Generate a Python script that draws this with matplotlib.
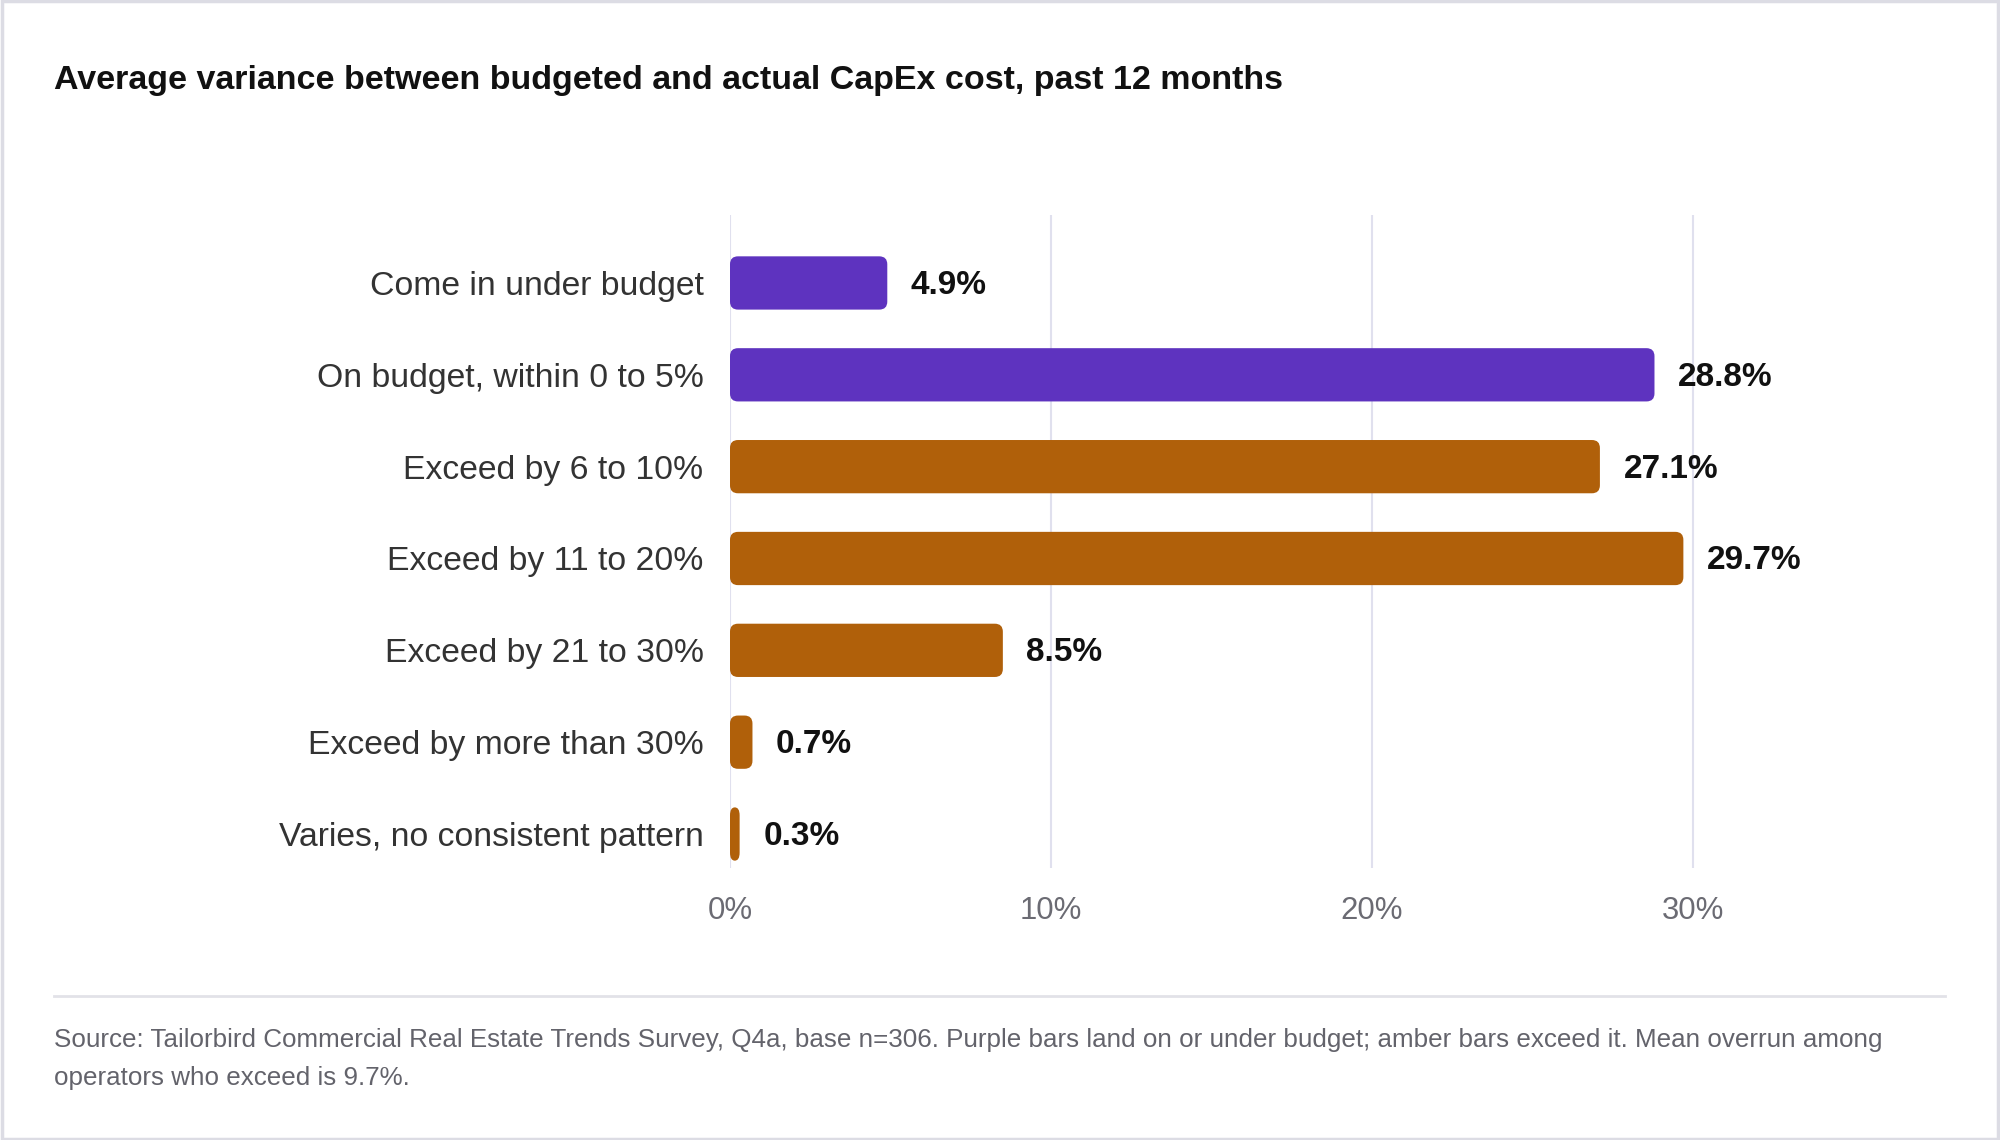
import matplotlib
matplotlib.use("Agg")
import matplotlib.pyplot as plt
from matplotlib.patches import FancyBboxPatch, Rectangle

plt.rcParams['font.family'] = ['Liberation Sans', 'DejaVu Sans']

# data
categories = ["Come in under budget", "On budget, within 0 to 5%", "Exceed by 6 to 10%",
              "Exceed by 11 to 20%", "Exceed by 21 to 30%", "Exceed by more than 30%",
              "Varies, no consistent pattern"]
values = [4.9, 28.8, 27.1, 29.7, 8.5, 0.7, 0.3]
groups = ["under", "under", "over", "over", "over", "over", "over"]
xticks = [0, 10, 20, 30]

title = "Average variance between budgeted and actual CapEx cost, past 12 months"
source_lines = ["Source: Tailorbird Commercial Real Estate Trends Survey, Q4a, base n=306. Purple bars land on or under budget; "
                "amber bars exceed it. Mean overrun among",
                "operators who exceed is 9.7%."]

colors = {"under": "#5E33BF", "over": "#B0600A"}

W, H = 2000, 1140
fig = plt.figure(figsize=(W / 100, H / 100), dpi=100)
fig.patch.set_facecolor("white")

# outer frame
fig.add_artist(Rectangle((0.001, 0.001), 0.998, 0.998, transform=fig.transFigure,
                         fill=False, edgecolor="#dcdce4", linewidth=2.5))

ax_left, ax_top, ax_bottom = 730, 215, 868
px_per_unit = 32.1
xmax = 37
ax = fig.add_axes([ax_left / W, 1 - ax_bottom / H, xmax * px_per_unit / W, (ax_bottom - ax_top) / H])

n = len(categories)
ypos = list(range(n))
bar_h = 0.58
ax.set_xlim(0, xmax)
ax.set_ylim(n - 1 + 0.37, -0.74)

row_px = (ax_bottom - ax_top) / (n - 1 + 0.37 + 0.74)
r_px = 8
for y, v, g in zip(ypos, values, groups):
    # corner radius in x units, clamped so thin bars become pills
    r_x = min(r_px / px_per_unit, v / 2)
    r_y = r_px / row_px
    p = FancyBboxPatch((0, y - bar_h / 2), v, bar_h,
                       boxstyle=f"round,pad=0,rounding_size={r_x}",
                       mutation_aspect=r_y / r_x,
                       facecolor=colors[g], edgecolor="none", zorder=2)
    ax.add_patch(p)
    ax.annotate(f"{v}%", (v, y), xytext=(17, -1.8), textcoords="offset points",
                ha="left", va="center", fontsize=24, fontweight="bold", color="#111111", zorder=3)

ax.set_yticks(ypos)
ax.set_yticklabels(categories, fontsize=24.3, color="#333333")
ax.set_xticks(xticks)
ax.set_xticklabels([f"{t}%" for t in xticks], fontsize=22.4, color="#6b6b73")
ax.tick_params(axis="both", length=0)
ax.tick_params(axis="y", pad=19)
ax.tick_params(axis="x", pad=20)
ax.grid(axis="x", color="#e0e0ee", linewidth=1.5, zorder=0)
ax.set_axisbelow(True)
for s in ax.spines.values():
    s.set_visible(False)

fig.text(54 / W, 1 - 80 / H, title, fontsize=24.5, fontweight="bold", color="#111111",
         ha="left", va="center")

fig.add_artist(plt.Line2D([54 / W, 1945 / W], [1 - 996 / H, 1 - 996 / H], transform=fig.transFigure,
                          color="#e2e2e8", linewidth=2))

for line, yy in zip(source_lines, [1040, 1078]):
    fig.text(54 / W, 1 - yy / H, line, fontsize=18.7, color="#63636b", ha="left", va="center")

fig.savefig("out.png", dpi=100, facecolor="white")
